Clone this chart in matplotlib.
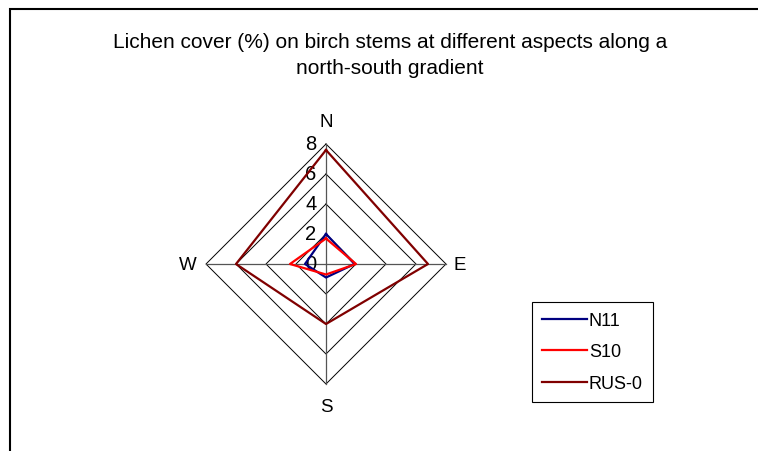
import numpy as np
import matplotlib.pyplot as plt
from matplotlib.patches import Rectangle

plt.rcParams['font.family'] = ['Liberation Sans', 'DejaVu Sans']

# data
aspects = ['N', 'E', 'S', 'W']
n11 = [2.0, 1.9, 0.9, 1.4]
s10 = [1.7, 2.0, 0.7, 2.4]
rus0 = [7.6, 6.8, 4.0, 6.0]
rings = [2, 4, 6, 8]
tick_vals = [0, 2, 4, 6, 8]

series = [('N11', n11, '#000080'), ('S10', s10, '#FF0000'), ('RUS-0', rus0, '#800000')]

# N up, E right, S down, W left
ang = np.deg2rad([90, 0, -90, 180])


def xy(vals):
    v = np.array(list(vals) + [vals[0]], dtype=float)
    a = np.append(ang, ang[0])
    return v * np.cos(a), v * np.sin(a)


fig = plt.figure(figsize=(7.58, 4.52), dpi=100)
ax = fig.add_axes([191 / 758, 52 / 452, 270 / 758, 270 / 452])
ax.set_xlim(-9, 9)
ax.set_ylim(-9, 9)
ax.axis('off')

# grid diamonds
for r in rings:
    gx, gy = xy([r] * 4)
    ax.plot(gx, gy, color='black', lw=0.7, zorder=1)
# spokes
for a in ang:
    ax.plot([0, 8 * np.cos(a)], [0, 8 * np.sin(a)], color='#555555', lw=0.9, zorder=1)

handles = []
for name, vals, col in series:
    sx, sy = xy(vals)
    h, = ax.plot(sx, sy, color=col, lw=1.6, label=name, zorder=3)
    handles.append(h)

# radial tick labels
for t in tick_vals:
    ax.text(-0.65, t, str(t), ha='right', va='center', fontsize=14.5, zorder=2)

# category labels
lab_pos = {'N': (0, 9.5), 'E': (8.9, 0), 'S': (0, -9.5), 'W': (-9.2, 0)}
for name in aspects:
    px, py = lab_pos[name]
    ax.text(px, py, name, ha='center', va='center', fontsize=13.5, clip_on=False)

fig.text(390 / 758, 1 - 42 / 452, 'Lichen cover (%) on birch stems at different aspects along a',
         ha='center', va='center', fontsize=15)
fig.text(390 / 758, 1 - 69 / 452, 'north-south gradient', ha='center', va='center', fontsize=15)

# chart area border (runs off the right and bottom edges)
fig.add_artist(Rectangle((10 / 758, -0.1), 1.2, 1 - 10 / 452 + 0.1, transform=fig.transFigure,
                         fill=False, edgecolor='black', lw=1.5))

leg = fig.legend(handles=handles, loc='upper left',
                 bbox_to_anchor=(532 / 758, 1 - 303 / 452), fontsize=13,
                 frameon=True, fancybox=False, edgecolor='black', framealpha=1,
                 handlelength=2.5, handletextpad=0.1, labelspacing=0.8, borderpad=0.55,
                 borderaxespad=0)
leg.get_frame().set_linewidth(0.8)

fig.savefig('out.png', dpi=100)
